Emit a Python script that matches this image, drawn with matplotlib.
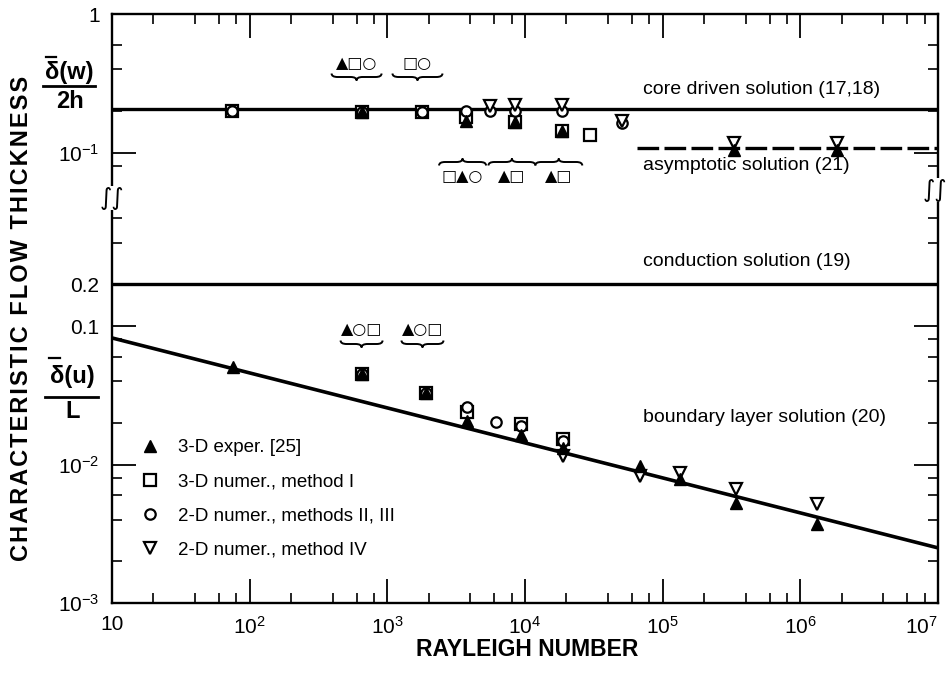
import matplotlib
matplotlib.use('Agg')
import matplotlib.pyplot as plt
import numpy as np
from matplotlib.ticker import FixedLocator, FixedFormatter, NullFormatter
from matplotlib.path import Path
from matplotlib.patches import PathPatch
from matplotlib.lines import Line2D

plt.rcParams['font.family'] = ['Liberation Sans', 'DejaVu Sans']
plt.rcParams['mathtext.fontset'] = 'custom'
plt.rcParams['mathtext.rm'] = 'Liberation Sans'
plt.rcParams['mathtext.it'] = 'Liberation Sans:italic'
plt.rcParams['mathtext.bf'] = 'Liberation Sans:bold'

# ---------------- data ----------------
# upper panel: delta(w) / 2h
w_exp3d_ra = [650, 3700, 8450, 18500, 3.3e5, 1.84e6]
w_exp3d = [0.197, 0.168, 0.165, 0.142, 0.105, 0.105]
w_num3d_ra = [75, 650, 1800, 3700, 8450, 18500, 29600]
w_num3d = [0.200, 0.197, 0.197, 0.179, 0.165, 0.142, 0.133]
w_num2d_ra = [75, 650, 1800, 3700, 5560, 8450, 18500, 50600]
w_num2d = [0.200, 0.197, 0.197, 0.199, 0.200, 0.198, 0.198, 0.163]
w_num2d4_ra = [5560, 8450, 18500, 50600, 3.3e5, 1.84e6]
w_num2d4 = [0.218, 0.222, 0.222, 0.168, 0.118, 0.118]

# lower panel: delta(u) / L
u_exp3d_ra = [76, 650, 1900, 3800, 9300, 19000, 68000, 1.33e5, 3.4e5, 1.32e6]
u_exp3d = [0.0506, 0.045, 0.033, 0.0205, 0.0163, 0.0132, 0.0098, 0.0079, 0.0053, 0.0037]
u_num3d_ra = [650, 1900, 3800, 9300, 19000]
u_num3d = [0.045, 0.033, 0.024, 0.0195, 0.0153]
u_num2d_ra = [650, 1900, 3800, 6200, 9300, 19000]
u_num2d = [0.045, 0.033, 0.026, 0.0203, 0.019, 0.0148]
u_num2d4_ra = [19000, 68000, 1.33e5, 3.4e5, 1.32e6]
u_num2d4 = [0.0115, 0.0083, 0.0087, 0.0067, 0.0052]

# theoretical solutions
core_ra = [10, 1e7]
core_w = [0.205, 0.205]
asym_ra = [6.5e4, 1e7]
asym_w = [0.108, 0.108]
cond_ra = [10, 1e7]
cond_u = [0.2, 0.2]
bl_ra = [10, 1e7]
bl_u = [0.082, 0.0025]

series_labels = ['3-D exper. [25]', '3-D numer., method I',
                 '2-D numer., methods II, III', '2-D numer., method IV']
solution_labels = ['core driven solution (17,18)', 'asymptotic solution (21)',
                   'conduction solution (19)', 'boundary layer solution (20)']

x_decades = [10, 1e2, 1e3, 1e4, 1e5, 1e6, 1e7]
x_ticklabels = ['10', r'$\mathregular{10^{2}}$', r'$\mathregular{10^{3}}$',
                r'$\mathregular{10^{4}}$', r'$\mathregular{10^{5}}$',
                r'$\mathregular{10^{6}}$', r'$\mathregular{10^{7}}$']
w_yticks = [0.1, 1]
w_yticklabels = [r'$\mathregular{10^{-1}}$', '1']
w_yminor = [0.08, 0.2, 0.4, 0.6]
u_yticks = [0.001, 0.01, 0.1, 0.2]
u_yticklabels = [r'$\mathregular{10^{-3}}$', r'$\mathregular{10^{-2}}$', '0.1', '0.2']
u_yminor = [0.002, 0.004, 0.006, 0.008, 0.02, 0.04, 0.06, 0.08, 0.4, 0.6]

upper_groups = [(650, '▲□○', 'above'), (1800, '□○', 'above'),
                (3700, '□▲○', 'below'), (8450, '▲□', 'below'), (18500, '▲□', 'below')]
lower_groups = [(650, '▲○□'), (1800, '▲○□')]

ylabel_text = 'CHARACTERISTIC FLOW THICKNESS'
xlabel_text = 'RAYLEIGH NUMBER'

# ---------------- layout ----------------
W, H = 949, 673
fig = plt.figure(figsize=(W / 100, H / 100), dpi=100)


def fx(px):
    return px / W


def fy(py):
    return 1 - py / H


AX_L, AX_R, AX_T, AX_B, BREAK = 112, 938, 14, 603, 197
DEC = 138.5

ax_w = fig.add_axes([fx(AX_L), fy(BREAK), fx(AX_R) - fx(AX_L), fy(AX_T) - fy(BREAK)])
ax_u = fig.add_axes([fx(AX_L), fy(AX_B), fx(AX_R) - fx(AX_L), fy(BREAK) - fy(AX_B)])

ax_w.set_ylim(10 ** (-(BREAK - AX_T) / DEC), 1)
ax_u.set_ylim(1e-3, 10 ** (-3 + (AX_B - BREAK) / DEC))

x_minor = [m * 10 ** k for k in range(1, 7) for m in (2, 4, 6, 8)]
for ax in (ax_w, ax_u):
    ax.set_xscale('log')
    ax.set_yscale('log')
    ax.set_xlim(10, 1e7)
    ax.patch.set_alpha(0)
    ax.xaxis.set_major_locator(FixedLocator(x_decades))
    ax.xaxis.set_minor_locator(FixedLocator(x_minor))
    ax.xaxis.set_minor_formatter(NullFormatter())
    ax.yaxis.set_minor_formatter(NullFormatter())
    ax.tick_params(which='major', direction='in', length=17, width=1.3,
                   labelsize=15, pad=9)
    ax.tick_params(which='minor', direction='in', length=7, width=1.2)
    ax.tick_params(axis='y', which='both', left=True, right=True)
    for s in ax.spines.values():
        s.set_linewidth(1.7)

ax_w.spines['bottom'].set_visible(False)
ax_u.spines['top'].set_visible(False)
ax_w.tick_params(axis='x', which='both', top=True, bottom=False,
                 labeltop=False, labelbottom=False)
ax_u.tick_params(axis='x', which='both', top=False, bottom=True)
ax_u.xaxis.set_major_formatter(FixedFormatter(x_ticklabels))

ax_w.yaxis.set_major_locator(FixedLocator(w_yticks))
ax_w.yaxis.set_major_formatter(FixedFormatter(w_yticklabels))
ax_w.yaxis.set_minor_locator(FixedLocator(w_yminor))
ax_u.yaxis.set_major_locator(FixedLocator(u_yticks))
ax_u.yaxis.set_major_formatter(FixedFormatter(u_yticklabels))
ax_u.yaxis.set_minor_locator(FixedLocator(u_yminor))

xt = ax_u.xaxis.get_major_ticks()
xt[-1].label1.set_horizontalalignment('right')

# ---------------- solution lines ----------------
ax_w.plot(core_ra, core_w, color='k', lw=2.4, zorder=2)
ax_w.plot(asym_ra, asym_w, color='k', lw=2.4, ls=(0, (6.5, 1.6)), zorder=2)
ax_u.plot(cond_ra, cond_u, color='k', lw=2.4, zorder=2)
ax_u.plot(bl_ra, bl_u, color='k', lw=2.6, zorder=2)

# ---------------- data markers ----------------
sq = dict(marker='s', ms=9, mfc='white', mec='k', mew=1.6, ls='none', zorder=3)
ci = dict(marker='o', ms=7.5, mfc='white', mec='k', mew=1.6, ls='none', zorder=4)
dt = dict(marker='v', ms=9, mfc='white', mec='k', mew=1.6, ls='none', zorder=5)
tr = dict(marker='^', ms=9, mfc='k', mec='k', mew=1.0, ls='none', zorder=6)

ax_w.plot(w_num3d_ra, w_num3d, **sq)
ax_w.plot(w_num2d_ra, w_num2d, **ci)
ax_w.plot(w_num2d4_ra, w_num2d4, **dt)
ax_w.plot(w_exp3d_ra, w_exp3d, **tr)

h_sq, = ax_u.plot(u_num3d_ra, u_num3d, **sq)
h_ci, = ax_u.plot(u_num2d_ra, u_num2d, **ci)
h_dt, = ax_u.plot(u_num2d4_ra, u_num2d4, **dt)
h_tr, = ax_u.plot(u_exp3d_ra, u_exp3d, **tr)

leg = ax_u.legend([h_tr, h_sq, h_ci, h_dt], series_labels, loc='upper left',
                  bbox_to_anchor=(fx(141), fy(439)), bbox_transform=fig.transFigure,
                  frameon=False, fontsize=13.5, handlelength=1.0, handletextpad=1.0,
                  labelspacing=0.9, borderpad=0, borderaxespad=0, numpoints=1)

# ---------------- solution labels ----------------
sol_pos = [(643, 89), (643, 165), (643, 262), (643, 418)]
for (px, py), lab in zip(sol_pos, solution_labels):
    fig.text(fx(px), fy(py), lab, fontsize=14, ha='left', va='center')

# ---------------- group labels with braces ----------------
def brace(xc, y, w, h, tip):
    # tip: 'down' -> ends up, tip down; 'up' -> ends down, tip up
    s = 1 if tip == 'down' else -1
    x0, x1 = xc - w / 2, xc + w / 2
    ym = y
    ye = y - s * h / 2
    yt = y + s * h / 2
    q = min(6, w / 6)
    verts = [(x0, ye), (x0, ym), (x0 + q, ym), (xc - q, ym), (xc, ym), (xc, yt),
             (xc, ym), (xc + q, ym), (x1 - q, ym), (x1, ym), (x1, ye)]
    codes = [Path.MOVETO, Path.CURVE3, Path.CURVE3, Path.LINETO, Path.CURVE3, Path.CURVE3,
             Path.CURVE3, Path.CURVE3, Path.LINETO, Path.CURVE3, Path.CURVE3]
    verts = [(fx(a), fy(b)) for a, b in verts]
    fig.add_artist(PathPatch(Path(verts, codes), fc='none', ec='k', lw=1.4,
                             transform=fig.transFigure))


def ra_to_px(ax, ra):
    return ax.transData.transform((ra, 0.1))[0] * 100 / fig.dpi


for ra, lab, pos in upper_groups:
    xc = ra_to_px(ax_w, ra)
    if pos == 'above':
        fig.text(fx(xc - 5), fy(63), lab, fontsize=11.5, ha='center', va='center',
                 family=['DejaVu Sans'])
        brace(xc - 5, 77, 50, 7, 'down')
    else:
        fig.text(fx(xc - 3), fy(177), lab, fontsize=11.5, ha='center', va='center',
                 family=['DejaVu Sans'])
        brace(xc - 3, 162, 47, 7, 'up')

for ra, lab in lower_groups:
    xc = ra_to_px(ax_u, ra)
    fig.text(fx(xc), fy(330), lab, fontsize=11.5, ha='center', va='center',
             family=['DejaVu Sans'])
    brace(xc, 344, 42, 7, 'down')

# ---------------- axis break marks ----------------
for px, py in [(AX_L, 198), (AX_R - 3, 190)]:
    fig.text(fx(px), fy(py), '∫∫', fontsize=17, ha='center', va='center',
             family=['DejaVu Sans'],
             bbox=dict(fc='white', ec='none', pad=0.3))

# ---------------- axis titles ----------------
HS = '\u200a'
fig.text(fx(22), fy(318), HS.join(ylabel_text), rotation=90,
         fontsize=17, fontweight='bold', ha='center', va='center',
         family=['Liberation Sans', 'DejaVu Sans'])
fig.text(fx(527), fy(650), xlabel_text, fontsize=16.5, fontweight='bold',
         ha='center', va='center')

# fraction labels
fig.text(fx(69), fy(72), 'δ(w)', fontsize=17, fontweight='bold', ha='center', va='center')
fig.add_artist(Line2D([fx(46), fx(56)], [fy(57), fy(57)], color='k', lw=1.6))
fig.add_artist(Line2D([fx(43), fx(95)], [fy(86), fy(86)], color='k', lw=2))
fig.text(fx(70), fy(101), '2h', fontsize=17, fontweight='bold', ha='center', va='center')

fig.text(fx(72), fy(376), 'δ(u)', fontsize=17, fontweight='bold', ha='center', va='center')
fig.add_artist(Line2D([fx(49), fx(60)], [fy(358), fy(358)], color='k', lw=1.6))
fig.add_artist(Line2D([fx(45), fx(98)], [fy(397), fy(397)], color='k', lw=2))
fig.text(fx(73), fy(411), 'L', fontsize=17, fontweight='bold', ha='center', va='center')

fig.savefig('out.png', dpi=100)
